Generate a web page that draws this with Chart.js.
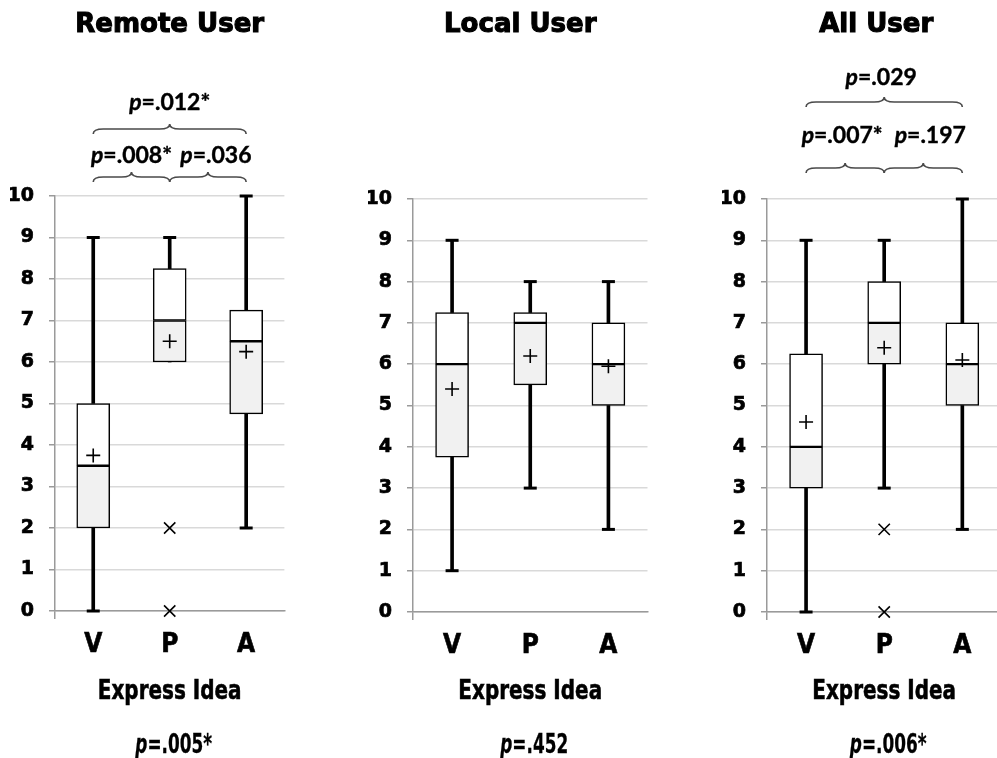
<!DOCTYPE html>
<html><head><meta charset="utf-8">
<script src="https://cdn.jsdelivr.net/npm/chart.js@4.4.1/dist/chart.umd.min.js"></script>
<style>
html,body{margin:0;padding:0;background:#fff;overflow:hidden;width:997px;height:758px;position:relative}
canvas{position:absolute;top:0}
</style></head><body>
<canvas id="c0" width="294" height="758" style="left:0px"></canvas>
<canvas id="c1" width="307" height="758" style="left:350px"></canvas>
<canvas id="c2" width="301" height="758" style="left:710px"></canvas>
<script>
// ---------- data ----------
const categories = ['V', 'P', 'A'];
const yTickValues = [0, 1, 2, 3, 4, 5, 6, 7, 8, 9, 10];
const panelTitles = ['Remote User', 'Local User', 'All User'];
const xAxisTitle = 'Express Idea';
const overallP = ['=.005*', '=.452', '=.006*'];

// Remote User
const remoteMin    = [0, 6, 2];
const remoteQ1     = [2, 6, 4.75];
const remoteMedian = [3.5, 7, 6.5];
const remoteQ3     = [5, 8.25, 7.25];
const remoteMax    = [9, 9, 10];
const remoteMean   = [3.75, 6.5, 6.25];
const remoteOutliers = [{x: 'P', y: 2}, {x: 'P', y: 0}];
const remotePairs = [
  {from: 0, to: 2, label: '=.012*', level: 1},
  {from: 0, to: 1, label: '=.008*', level: 0},
  {from: 1, to: 2, label: '=.036', level: 0}
];

// Local User
const localMin    = [1, 3, 2];
const localQ1     = [3.75, 5.5, 5];
const localMedian = [6, 7, 6];
const localQ3     = [7.25, 7.25, 7];
const localMax    = [9, 8, 8];
const localMean   = [5.4, 6.2, 5.95];
const localOutliers = [];
const localPairs = [];

// All User
const allMin    = [0, 3, 2];
const allQ1     = [3, 6, 5];
const allMedian = [4, 7, 6];
const allQ3     = [6.25, 8, 7];
const allMax    = [9, 9, 10];
const allMean   = [4.6, 6.4, 6.1];
const allOutliers = [{x: 'P', y: 2}, {x: 'P', y: 0}];
const allPairs = [
  {from: 0, to: 2, label: '=.029', level: 1},
  {from: 0, to: 1, label: '=.007*', level: 0},
  {from: 1, to: 2, label: '=.197', level: 0}
];

// ---------- styling ----------
const COND = '"DejaVu Sans Condensed", "Liberation Sans Narrow", sans-serif';
const DV = '"DejaVu Sans", sans-serif';
const AXISGRAY = '#9a9a9a';

function brace(ctx, x1, x2, y, h) {
  const xm = (x1 + x2) / 2;
  const r = Math.min(10, (x2 - x1) / 4);
  ctx.beginPath();
  ctx.moveTo(x1, y + h);
  ctx.quadraticCurveTo(x1, y, x1 + r, y);
  ctx.lineTo(xm - r, y);
  ctx.quadraticCurveTo(xm, y, xm, y - h);
  ctx.quadraticCurveTo(xm, y, xm + r, y);
  ctx.lineTo(x2 - r, y);
  ctx.quadraticCurveTo(x2, y, x2, y + h);
  ctx.stroke();
}

// "p" in italic followed by the rest, centred at cx, horizontally scaled by sx
function pText(ctx, rest, cx, baseline, size, family, sx, stroke) {
  const fi = 'italic bold ' + size + 'px ' + family;
  const fn = 'bold ' + size + 'px ' + family;
  ctx.save();
  ctx.translate(cx, baseline);
  ctx.scale(sx, 1);
  ctx.font = fi; const w1 = ctx.measureText('p').width;
  ctx.font = fn; const w2 = ctx.measureText(rest).width;
  const x = -(w1 + w2) / 2;
  ctx.textAlign = 'left'; ctx.textBaseline = 'alphabetic';
  ctx.fillStyle = '#000'; ctx.strokeStyle = '#000'; ctx.lineWidth = stroke;
  ctx.font = fi; ctx.fillText('p', x, 0); if (stroke) ctx.strokeText('p', x, 0);
  ctx.font = fn; ctx.fillText(rest, x + w1, 0); if (stroke) ctx.strokeText(rest, x + w1, 0);
  ctx.restore();
}

function scaledText(ctx, text, cx, baseline, font, sx, stroke) {
  ctx.save();
  ctx.translate(cx, baseline);
  ctx.scale(sx, 1);
  ctx.font = font; ctx.textAlign = 'center'; ctx.textBaseline = 'alphabetic';
  ctx.fillStyle = '#000'; ctx.strokeStyle = '#000'; ctx.lineWidth = stroke;
  ctx.fillText(text, 0, 0);
  if (stroke) ctx.strokeText(text, 0, 0);
  ctx.restore();
}

const decor = {
  id: 'decor',
  afterDraw(chart, args, o) {
    const ctx = chart.ctx, xs = chart.scales.x, top = chart.chartArea.top;
    const mid = xs.getPixelForValue(1);
    ctx.save();
    ctx.fillStyle = '#000'; ctx.strokeStyle = '#000';
    ctx.textAlign = 'center'; ctx.textBaseline = 'alphabetic';
    ctx.font = 'bold 26px ' + DV;
    ctx.lineWidth = 1.1;
    ctx.fillText(o.title, mid + o.titleShift, o.titleBaseline);
    ctx.strokeText(o.title, mid + o.titleShift, o.titleBaseline);
    scaledText(ctx, xAxisTitle, mid, o.axisTitleBaseline, 'bold 27px ' + DV, 0.74, 0.6);
    pText(ctx, o.overall, mid + 4, o.overallBaseline, 26, DV, 0.65, 0.3);
    o.pairs.forEach((pr, k) => {
      const x1 = xs.getPixelForValue(pr.from), x2 = xs.getPixelForValue(pr.to);
      ctx.strokeStyle = '#4a4a4a'; ctx.lineWidth = 1.6;
      brace(ctx, x1, x2, top + o.braceLine[pr.level], 5);
      pText(ctx, pr.label, (x1 + x2) / 2 + o.labelShift[k], top + o.braceLabel[pr.level], 23,
            'Lato, "Open Sans", sans-serif', 1, 0.4);
    });
    ctx.restore();
  }
};

function makeChart(id, d, look) {
  const minCap = d.min.map((v, i) => v === d.q1[i] ? null : v);
  const maxCap = d.max.map((v, i) => v === d.q3[i] ? null : v);
  new Chart(document.getElementById(id), {
    type: 'bar',
    data: {
      labels: categories,
      datasets: [
        {type: 'line', data: d.mean, showLine: false, pointStyle: 'cross', pointRadius: 7, pointHoverRadius: 7,
         pointBorderWidth: 1.6, borderColor: '#000', backgroundColor: '#000', clip: false},
        {type: 'line', data: d.outliers, showLine: false, pointStyle: 'crossRot', pointRadius: 8, pointHoverRadius: 8,
         pointBorderWidth: 1.6, borderColor: '#000', backgroundColor: '#000', clip: false},
        {type: 'line', data: maxCap, showLine: false, pointStyle: 'line', pointRadius: 6.5, pointHoverRadius: 6.5,
         pointBorderWidth: 3, borderColor: '#000', backgroundColor: '#000', clip: false},
        {type: 'line', data: minCap, showLine: false, pointStyle: 'line', pointRadius: 6.5, pointHoverRadius: 6.5,
         pointBorderWidth: 3, borderColor: '#000', backgroundColor: '#000', clip: false},
        {data: d.q1.map((v, i) => [v, d.median[i]]), backgroundColor: '#f1f1f1', borderColor: '#000',
         borderWidth: 1.5, borderSkipped: false, barThickness: 33, grouped: false, clip: false},
        {data: d.median.map((v, i) => [v, d.q3[i]]), backgroundColor: '#ffffff', borderColor: '#000',
         borderWidth: 1.5, borderSkipped: false, barThickness: 33, grouped: false, clip: false},
        {data: d.min.map((v, i) => [v, d.q1[i]]), backgroundColor: '#000', borderWidth: 0,
         barThickness: 3, grouped: false, clip: false},
        {data: d.q3.map((v, i) => [v, d.max[i]]), backgroundColor: '#000', borderWidth: 0,
         barThickness: 3, grouped: false, clip: false}
      ]
    },
    options: {
      responsive: false,
      animation: false,
      events: [],
      layout: {padding: look.padding},
      plugins: {
        legend: {display: false},
        tooltip: {enabled: false},
        decor: {
          title: d.title, overall: d.overall, pairs: d.pairs,
          titleBaseline: 32, axisTitleBaseline: 699, overallBaseline: 753, titleShift: look.titleShift,
          braceLine: look.braceLine, braceLabel: look.braceLabel, labelShift: look.labelShift
        }
      },
      scales: {
        x: {
          offset: true,
          grid: {offset: true, drawOnChartArea: false, drawTicks: true, tickLength: 8, lineWidth: 1.5,
                 color: c => c.index === 0 ? AXISGRAY : 'rgba(0,0,0,0)',
                 tickColor: c => c.index === 0 ? AXISGRAY : 'rgba(0,0,0,0)'},
          border: {color: AXISGRAY, width: 1.5},
          ticks: {color: '#000', padding: 11, font: {family: COND, size: 26, weight: 'bold'},
                  textStrokeColor: '#000', textStrokeWidth: 0.6},
          afterFit: s => { s.height = look.xHeight; }
        },
        y: {
          min: 0, max: 10,
          afterBuildTicks: s => { s.ticks = yTickValues.map(v => ({value: v})); },
          grid: {color: '#d9d9d9', lineWidth: 1.5, tickLength: 6, tickColor: AXISGRAY},
          border: {color: AXISGRAY, width: 1.5},
          ticks: {color: '#000', padding: 15, font: {family: DV, size: 19, weight: 'bold'},
                  textStrokeColor: '#000', textStrokeWidth: 0.7},
          afterFit: s => { s.width = 45; }
        }
      }
    },
    plugins: [decor]
  });
}

makeChart('c0', {title: panelTitles[0], overall: overallP[0], pairs: remotePairs,
  min: remoteMin, q1: remoteQ1, median: remoteMedian, q3: remoteQ3, max: remoteMax, mean: remoteMean, outliers: remoteOutliers},
  {padding: {left: 10, right: 2, top: 196, bottom: 0}, xHeight: 147, braceLine: [-19, -67], braceLabel: [-33, -86],
   titleShift: 0, labelShift: [0, 0, 8]});
makeChart('c1', {title: panelTitles[1], overall: overallP[1], pairs: localPairs,
  min: localMin, q1: localQ1, median: localMedian, q3: localQ3, max: localMax, mean: localMean, outliers: localOutliers},
  {padding: {left: 18, right: 4, top: 199, bottom: 0}, xHeight: 146, braceLine: [-19, -67], braceLabel: [-33, -86],
   titleShift: -10, labelShift: []});
makeChart('c2', {title: panelTitles[2], overall: overallP[2], pairs: allPairs,
  min: allMin, q1: allQ1, median: allMedian, q3: allQ3, max: allMax, mean: allMean, outliers: allOutliers},
  {padding: {left: 12, right: 4, top: 199, bottom: 0}, xHeight: 146, braceLine: [-31, -97], braceLabel: [-56, -114],
   titleShift: -8, labelShift: [-3, -3, 7]});
</script>
</body></html>
